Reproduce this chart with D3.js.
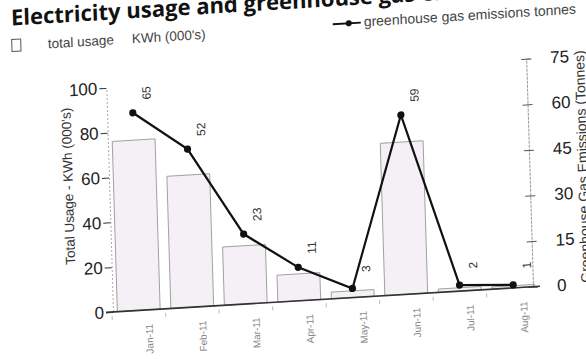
<!DOCTYPE html>
<html lang="en">
<head>
	<meta charset="utf-8"/>
	<title>Electricity usage and greenhouse gas emissions</title>
	<script src="https://d3js.org/d3.v7.min.js" charset="utf-8"></script>
	<style>
		body { margin: 0; background: #fff; }
		svg { display: block; }
		.axis text { font-family: "Liberation Sans", Arial, sans-serif; fill: #222; }
		.months text { font-family: "Liberation Sans", Arial, sans-serif; fill: #888; font-size: 10px; }
		.ptlabel { font-family: "Liberation Sans", Arial, sans-serif; fill: #333; font-size: 12px; }
	</style>
</head>
<body>
<div id="chart"></div>

<script>
	// values
	var months = ["Jan-11", "Feb-11", "Mar-11", "Apr-11", "May-11", "Jun-11", "Jul-11", "Aug-11"];
	var usage = [76, 59, 26, 12, 3, 68, 1.5, 1];          // KWh (000's), left axis
	var emissions = [65, 52, 23, 11, 3, 59, 2, 1];        // tonnes, right axis
	var usageTicks = [0, 20, 40, 60, 80, 100];
	var emissionTicks = [0, 15, 30, 45, 60, 75];

	var width = 586,
		height = 359;

	var svg = d3.select("#chart").append("svg")
		.attr("width", width)
		.attr("height", height);

	// the original is a crooked scan: draw it flat, then shear the whole thing
	var g = svg.append("g")
		.attr("transform", "matrix(1,-0.06,0.03,1,-9.36,6.72)");

	var x = d3.scaleBand()
		.domain(months)
		.range([112, 540])
		.paddingInner(0.2)
		.paddingOuter(0.1);

	var yL = d3.scaleLinear().domain([0, 100]).range([312, 88]);
	var yR = d3.scaleLinear().domain([0, 75]).range([312, 84]);

	var rows = months.map(function(m, i) { return {m: m, u: usage[i], e: emissions[i]}; });

	// title + legends
	g.append("text")
		.attr("x", 20).attr("y", 20)
		.attr("font-family", "'Open Sans', sans-serif")
		.attr("font-weight", "bold")
		.attr("font-size", 22)
		.attr("fill", "#111")
		.text("Electricity usage and greenhouse gas emissions");

	g.append("rect")
		.attr("x", 20).attr("y", 34)
		.attr("width", 9).attr("height", 12)
		.attr("fill", "none")
		.attr("stroke", "#555");
	g.append("text")
		.attr("x", 56).attr("y", 45)
		.attr("font-family", "'Liberation Sans', sans-serif")
		.attr("font-size", 13.5).attr("fill", "#444")
		.text("total usage");
	g.append("text")
		.attr("x", 140).attr("y", 45)
		.attr("font-family", "'Liberation Sans', sans-serif")
		.attr("font-size", 13.5).attr("fill", "#444")
		.text("KWh (000's)");

	g.append("line")
		.attr("x1", 341).attr("x2", 369)
		.attr("y1", 38).attr("y2", 38)
		.attr("stroke", "#111").attr("stroke-width", 1.8);
	g.append("circle")
		.attr("cx", 357).attr("cy", 38).attr("r", 3)
		.attr("fill", "#111");
	g.append("text")
		.attr("x", 372).attr("y", 42)
		.attr("font-family", "'Liberation Sans', sans-serif")
		.attr("font-size", 14).attr("fill", "#444")
		.text("greenhouse gas emissions tonnes");

	// bars
	g.append("g")
		.selectAll("rect")
		.data(rows)
		.enter().append("rect")
		.attr("x", function(d) { return x(d.m); })
		.attr("y", function(d) { return yL(d.u); })
		.attr("width", x.bandwidth())
		.attr("height", function(d) { return yL(0) - yL(d.u); })
		.attr("fill", "#f5f0f6")
		.attr("stroke", "#999")
		.attr("stroke-width", 0.9);

	// left axis
	var left = g.append("g")
		.attr("class", "axis")
		.attr("transform", "translate(113,0)")
		.call(d3.axisLeft(yL).tickValues(usageTicks).tickSize(7).tickPadding(2));
	left.select(".domain")
		.attr("stroke", "#aaa")
		.attr("stroke-dasharray", "2,2");
	left.selectAll(".tick line").attr("stroke", "#333");
	left.selectAll("text").attr("font-size", 17);

	// right axis
	var right = g.append("g")
		.attr("class", "axis")
		.attr("transform", "translate(533,0)")
		.call(d3.axisRight(yR).tickValues(emissionTicks).tickSize(5).tickPadding(19));
	right.select(".domain")
		.attr("stroke", "#999")
		.attr("stroke-dasharray", "3,1");
	right.selectAll(".tick line").attr("x1", -5).attr("stroke", "#555");
	right.selectAll("text").attr("font-size", 17);

	// baseline
	g.append("line")
		.attr("x1", 106).attr("x2", 540)
		.attr("y1", yL(0)).attr("y2", yL(0))
		.attr("stroke", "#333")
		.attr("stroke-width", 1.6);

	// month labels
	var bottom = g.append("g")
		.attr("class", "months")
		.attr("transform", "translate(0," + yL(0) + ")")
		.call(d3.axisBottom(x).tickSize(0));
	bottom.select(".domain").remove();
	bottom.selectAll("text")
		.attr("text-anchor", "end")
		.attr("dy", "0.35em")
		.attr("y", 0)
		.attr("transform", "translate(10,14) rotate(-90)");

	// faint ticks between categories
	g.append("g")
		.selectAll("line")
		.data(months)
		.enter().append("line")
		.attr("x1", function(d) { return x(d) - x.step() * x.paddingInner() / 2; })
		.attr("x2", function(d) { return x(d) - x.step() * x.paddingInner() / 2; })
		.attr("y1", yL(0) + 4).attr("y2", yL(0) + 8)
		.attr("stroke", "#bbb");

	// axis titles
	g.append("text")
		.attr("transform", "translate(72,184) rotate(-90)")
		.attr("text-anchor", "middle")
		.attr("dy", "0.35em")
		.attr("font-family", "'Liberation Sans', sans-serif")
		.attr("font-size", 13.5)
		.attr("fill", "#333")
		.text("Total Usage - KWh (000's)");

	g.append("text")
		.attr("transform", "translate(586,195) rotate(-90)")
		.attr("text-anchor", "middle")
		.attr("dy", "0.35em")
		.attr("font-family", "'Liberation Sans', sans-serif")
		.attr("font-size", 14)
		.attr("fill", "#333")
		.text("Greenhouse Gas Emissions (Tonnes)");

	// emissions line
	var cx = function(d) { return x(d.m) + x.bandwidth() / 2; };

	var line = d3.line()
		.x(cx)
		.y(function(d) { return yR(d.e); });

	g.append("path")
		.datum(rows)
		.attr("d", line)
		.attr("fill", "none")
		.attr("stroke", "#111")
		.attr("stroke-width", 2.2);

	g.append("g")
		.selectAll("circle")
		.data(rows)
		.enter().append("circle")
		.attr("cx", cx)
		.attr("cy", function(d) { return yR(d.e); })
		.attr("r", 3.6)
		.attr("fill", "#111");

	g.append("g")
		.selectAll("text")
		.data(rows)
		.enter().append("text")
		.attr("class", "ptlabel")
		.attr("text-anchor", "middle")
		.attr("dy", "0.35em")
		.attr("transform", function(d) {
			return "translate(" + (cx(d) + 14) + "," + (yR(d.e) - 19) + ") rotate(-90)";
		})
		.text(function(d) { return d.e; });
</script>
</body>
</html>
